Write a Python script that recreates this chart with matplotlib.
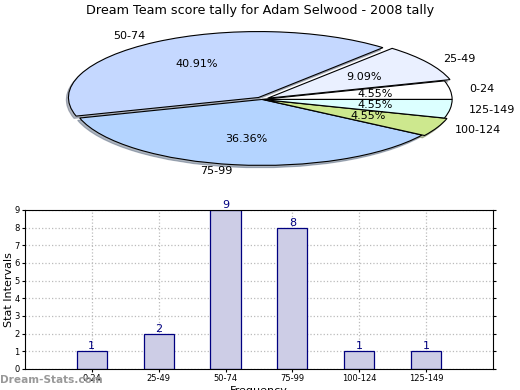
import matplotlib.pyplot as plt
import numpy as np

# ---------------------------------------
# Data
# ---------------------------------------
intervals = ["0-24", "25-49", "50-74", "75-99", "100-124", "125-149"]
counts = [1, 2, 9, 8, 1, 1]

pie_colors = ["#FFFFFF", "#EAF0FF", "#C5D8FF", "#B4D4FF", "#CDE88E", "#DCFFFF"]
explode = [0.0, 0.035, 0.035, 0.0, 0.015, 0.0]

fig = plt.figure(figsize=(5.2, 3.9), dpi=100)
fig.patch.set_facecolor("white")

fig.text(0.5, 0.973, "Dream Team score tally for Adam Selwood - 2008 tally",
         ha="center", va="center", fontsize=9.2)

# ---------------------------------------
# Squashed pie
# ---------------------------------------
ax_pie = fig.add_axes([0.102, 0.559, 0.804, 0.372])
wedges, texts, autotexts = ax_pie.pie(
    counts, labels=intervals, colors=pie_colors, explode=explode,
    startangle=0, counterclock=True, autopct="%.2f%%", pctdistance=0.6,
    labeldistance=1.1,
    shadow=dict(ox=-0.008, oy=-0.025, shade=0.5),
    wedgeprops=dict(edgecolor="black", linewidth=0.8),
    textprops=dict(fontsize=8))
ax_pie.set_aspect("auto")
ax_pie.set_xlim(-1.1, 1.1)
ax_pie.set_ylim(-1.1, 1.1)

# ---------------------------------------
# Bar chart
# ---------------------------------------
ax = fig.add_axes([0.048, 0.054, 0.9, 0.408])
x = np.arange(len(intervals))
ax.bar(x, counts, width=0.45, color="#CDCDE6", edgecolor="#000080",
       linewidth=0.9, zorder=2)
for xi, c in zip(x, counts):
    ax.text(xi, c, str(c), ha="center", va="bottom", fontsize=8,
            color="#000080", zorder=3)

ax.set_xlim(-1, 6)
ax.set_ylim(0, 9)
ax.set_yticks(range(10))
ax.set_xticks(x)
ax.set_xticklabels(intervals)
ax.tick_params(labelsize=6, length=2, right=True, direction="out", pad=2)
ax.grid(True, linestyle=":", color="#BBBBBB", linewidth=0.9, zorder=0)
ax.set_ylabel("Stat Intervals", fontsize=8)
ax.yaxis.set_label_coords(-0.024, 0.5)
ax.set_xlabel("Frequency", fontsize=8)
ax.xaxis.set_label_coords(0.5, -0.105)

fig.text(0.0, 0.025, "Dream-Stats.com", ha="left", va="center",
         fontsize=7.6, fontweight="bold", color="#999999")

plt.savefig("out.png", dpi=100)
